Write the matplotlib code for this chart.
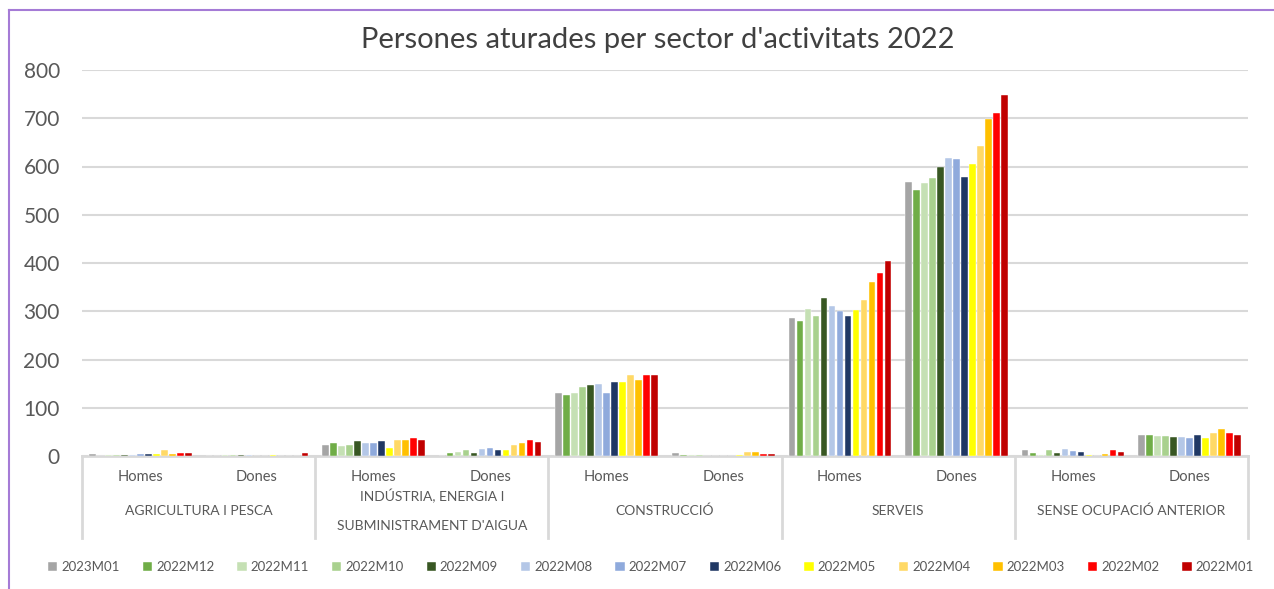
import numpy as np
import matplotlib
matplotlib.use("Agg")
import matplotlib.pyplot as plt
from matplotlib.lines import Line2D

plt.rcParams['font.family'] = ['Lato', 'DejaVu Sans']

# categories (sector / sex)
sectors = ["AGRICULTURA I PESCA", "INDÚSTRIA, ENERGIA I\nSUBMINISTRAMENT D'AIGUA",
           "CONSTRUCCIÓ", "SERVEIS", "SENSE OCUPACIÓ ANTERIOR"]
sexes = ["Homes", "Dones"]

# one list per month, values for the 10 sector/sex groups
s2023m01 = [4, 0, 23, 0, 130, 6, 285, 568, 12, 44]
s2022m12 = [0, 0, 26, 6, 127, 2, 279, 552, 6, 44]
s2022m11 = [2, 2, 20, 8, 130, 2, 304, 566, 2, 41]
s2022m10 = [2, 2, 23, 12, 143, 2, 290, 577, 12, 41]
s2022m09 = [2, 2, 32, 6, 147, 0, 327, 598, 6, 40]
s2022m08 = [2, 2, 26, 14, 149, 0, 310, 617, 15, 40]
s2022m07 = [4, 0, 26, 17, 130, 0, 300, 616, 10, 37]
s2022m06 = [4, 0, 31, 12, 154, 0, 290, 578, 8, 43]
s2022m05 = [4, 2, 17, 12, 154, 3, 302, 606, 3, 38]
s2022m04 = [12, 0, 33, 23, 167, 8, 323, 643, 0, 48]
s2022m03 = [4, 0, 33, 26, 158, 8, 361, 699, 4, 55]
s2022m02 = [6, 0, 37, 33, 167, 4, 380, 710, 12, 48]
s2022m01 = [6, 6, 33, 30, 167, 4, 405, 748, 8, 43]

months = ["2023M01", "2022M12", "2022M11", "2022M10", "2022M09", "2022M08", "2022M07",
          "2022M06", "2022M05", "2022M04", "2022M03", "2022M02", "2022M01"]
series = [s2023m01, s2022m12, s2022m11, s2022m10, s2022m09, s2022m08, s2022m07,
          s2022m06, s2022m05, s2022m04, s2022m03, s2022m02, s2022m01]
colors = ["#A5A5A5", "#70AD47", "#C5E0B4", "#A9D18E", "#385723", "#B4C7E7", "#8FAADC",
          "#203864", "#FFFF00", "#FFD966", "#FFC000", "#FF0000", "#C00000"]

W, H = 1274, 589
fig = plt.figure(figsize=(W / 100, H / 100), dpi=100)
ax = fig.add_axes([82 / W, (H - 456) / H, (1248 - 82) / W, (456 - 70) / H])

x = np.arange(10)
step = 0.0686
for i, (vals, c, m) in enumerate(zip(series, colors, months)):
    ax.bar(x + (i - 6) * step, vals, width=0.056, color=c, label=m,
           edgecolor="white", linewidth=0.3, zorder=3)

ax.set_xlim(-0.5, 9.5)
ax.set_ylim(0, 800)
ax.set_yticks(range(0, 801, 100))
ax.yaxis.grid(True, color="#D9D9D9", linewidth=1.5, zorder=0)
ax.tick_params(axis="y", length=0, labelsize=15, labelcolor="#595959", pad=16)
ax.set_xticks([])
for s in ["left", "right", "top"]:
    ax.spines[s].set_visible(False)
ax.spines["bottom"].set_color("#D9D9D9")
ax.spines["bottom"].set_linewidth(2)

# two-level category axis
tr = ax.get_xaxis_transform()
ybot = -(538 - 456) / 386
for b in np.arange(-0.5, 10, 2):
    ax.plot([b, b], [0, ybot], transform=tr, color="#D9D9D9", lw=2, clip_on=False)
for i in range(10):
    ax.text(x[i], -0.055, sexes[i % 2], transform=tr, ha="center", va="center",
            fontsize=10.5, color="#595959")
for j, name in enumerate(sectors):
    ax.text(2 * j + 0.5, -0.142, name, transform=tr, ha="center", va="center",
            fontsize=10, color="#595959", linespacing=2.7)

fig.text(658 / W, 1 - 40 / H, "Persones aturades per sector d'activitats 2022",
         ha="center", va="center", fontsize=21, color="#404040")

fig.legend(loc="center", bbox_to_anchor=(651 / W, 1 - 567 / H), ncol=13, frameon=False,
           fontsize=9.5, handlelength=0.7, handleheight=0.7, handletextpad=0.3,
           columnspacing=1.75, labelcolor="#595959")

# purple frame
pc = "#A57BD6"
fig.add_artist(Line2D([9 / W, 9 / W], [0, 1 - 10 / H], color=pc, lw=1.5))
fig.add_artist(Line2D([9 / W, 1], [1 - 10 / H, 1 - 10 / H], color=pc, lw=1.5))

fig.savefig("out.png", dpi=100)
